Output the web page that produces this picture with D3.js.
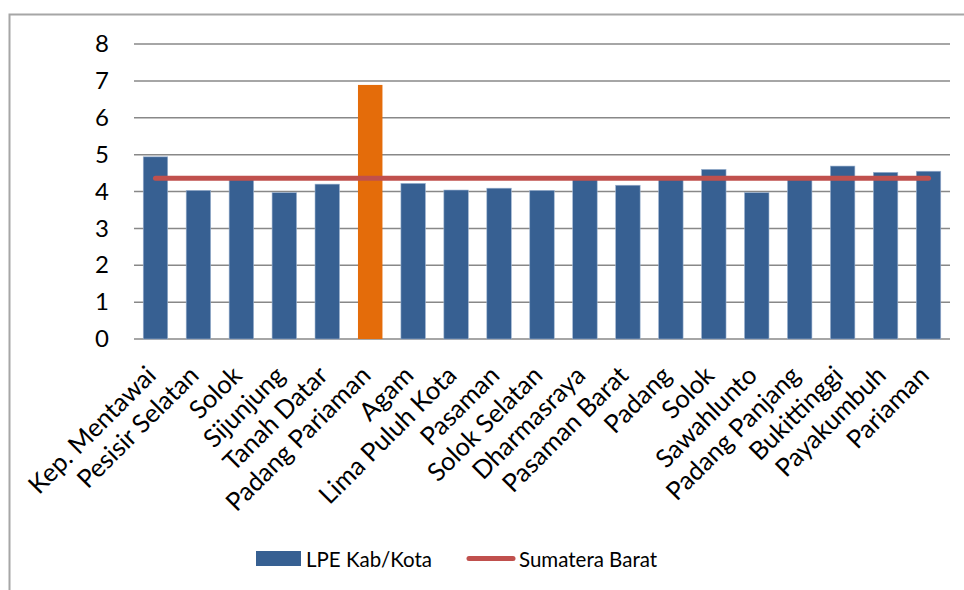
<!DOCTYPE html>
<html>
<head>
<meta charset="utf-8">
<script src="https://cdn.jsdelivr.net/npm/d3@7/dist/d3.min.js"></script>
<style>
  html, body { margin: 0; padding: 0; background: #fff; }
  svg { display: block; }
  text { font-family: Lato, "Open Sans", sans-serif; fill: #000; }
</style>
</head>
<body>
<svg id="chart" width="964" height="590"></svg>
<script>
const categories = ["Kep. Mentawai", "Pesisir Selatan", "Solok", "Sijunjung", "Tanah Datar",
  "Padang Pariaman", "Agam", "Lima Puluh Kota", "Pasaman", "Solok Selatan", "Dharmasraya",
  "Pasaman Barat", "Padang", "Solok", "Sawahlunto", "Padang Panjang", "Bukittinggi",
  "Payakumbuh", "Pariaman"];
const lpeKabKota = [4.94, 4.03, 4.38, 3.97, 4.20, 6.89, 4.22, 4.04, 4.09, 4.03, 4.40,
  4.17, 4.38, 4.60, 3.97, 4.40, 4.69, 4.52, 4.55];
const sumateraBarat = [4.36, 4.36, 4.36, 4.36, 4.36, 4.36, 4.36, 4.36, 4.36, 4.36, 4.36,
  4.36, 4.36, 4.36, 4.36, 4.36, 4.36, 4.36, 4.36];
const yTicks = [0, 1, 2, 3, 4, 5, 6, 7, 8];
const seriesNames = ["LPE Kab/Kota", "Sumatera Barat"];
const highlightIndex = 5;

const svg = d3.select("#chart");
const plot = { left: 134, right: 950, top: 44, bottom: 339 };

// frame
svg.append("path")
  .attr("d", "M9.5,590V14.5H964")
  .attr("fill", "none").attr("stroke", "#a6a6a6").attr("stroke-width", 2);

const idx = categories.map((d, i) => i);
const x = d3.scaleBand().domain(idx).range([plot.left, plot.right])
  .paddingInner(0.43).paddingOuter(0.215);
const y = d3.scaleLinear().domain([0, 8]).range([plot.bottom, plot.top]);

// gridlines
svg.append("g").selectAll("line").data(yTicks).join("line")
  .attr("x1", plot.left).attr("x2", plot.right)
  .attr("y1", d => y(d)).attr("y2", d => y(d))
  .attr("stroke", "#888").attr("stroke-width", 1.5);

// y axis labels
const yAxis = d3.axisLeft(y).tickValues(yTicks).tickSize(0).tickPadding(0).tickFormat(d3.format("d"));
const gy = svg.append("g").attr("transform", `translate(${plot.left - 25},0)`).call(yAxis);
gy.select(".domain").remove();
gy.selectAll("text").attr("font-size", 24).attr("font-family", "Lato, sans-serif").attr("fill", "#000");

// bars
svg.append("g").selectAll("rect").data(lpeKabKota).join("rect")
  .attr("x", (d, i) => x(i))
  .attr("width", x.bandwidth())
  .attr("y", d => y(d))
  .attr("height", d => y(0) - y(d))
  .attr("fill", (d, i) => i === highlightIndex ? "#E46C0A" : "#376092")
  .attr("stroke", (d, i) => i === highlightIndex ? "none" : "#9db3d0")
  .attr("stroke-width", 0.6);

// line
const line = d3.line().x((d, i) => x(i) + x.bandwidth() / 2).y(d => y(d));
svg.append("path").datum(sumateraBarat)
  .attr("d", line)
  .attr("fill", "none").attr("stroke", "#C0504D").attr("stroke-width", 5)
  .attr("stroke-linecap", "round");

// x labels
svg.append("g").selectAll("text").data(categories).join("text")
  .attr("transform", (d, i) => `translate(${x(i) + x.bandwidth() / 2 + 2},377) rotate(-45)`)
  .attr("text-anchor", "end")
  .attr("font-size", 25.5)
  .text(d => d);

// legend
const lg = svg.append("g");
lg.append("rect").attr("x", 256).attr("y", 551).attr("width", 45).attr("height", 15).attr("fill", "#376092");
lg.append("text").attr("x", 306).attr("y", 566.5).attr("font-size", 20.5).text(seriesNames[0]);
lg.append("line").attr("x1", 469).attr("x2", 513).attr("y1", 558.5).attr("y2", 558.5)
  .attr("stroke", "#C0504D").attr("stroke-width", 5).attr("stroke-linecap", "round");
lg.append("text").attr("x", 519).attr("y", 566.5).attr("font-size", 20.5).text(seriesNames[1]);
</script>
</body>
</html>
